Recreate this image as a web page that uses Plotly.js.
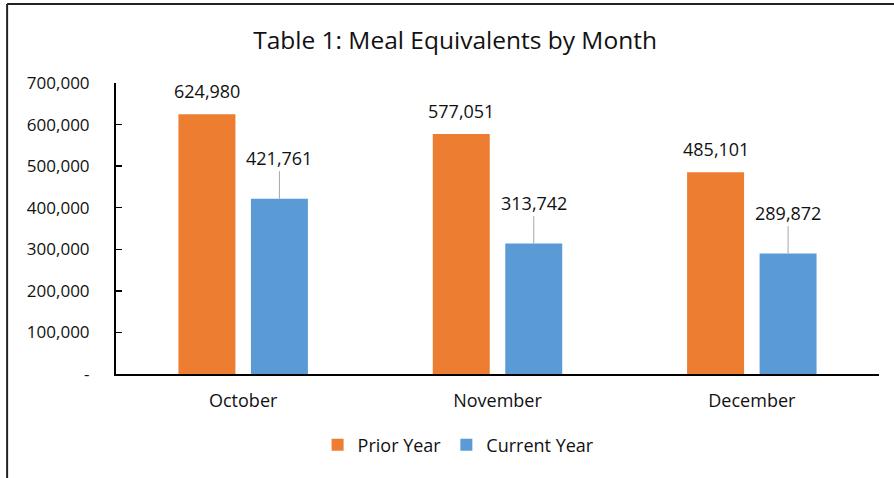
<!DOCTYPE html>
<html>
<head>
<meta charset="utf-8">
<script src="https://cdn.plot.ly/plotly-3.0.1.min.js"></script>
<style>html,body{margin:0;padding:0;background:#fff;}#chart{width:894px;height:478px;}</style>
</head>
<body>
<div id="chart"></div>
<script>
const months = ["October", "November", "December"];
const priorYear = [624980, 577051, 485101];
const currentYear = [421761, 313742, 289872];
const seriesNames = ["Prior Year", "Current Year"];
const yTickVals = [0, 100000, 200000, 300000, 400000, 500000, 600000, 700000];
const yTickText = ["-", "100,000", "200,000", "300,000", "400,000", "500,000", "600,000", "700,000"];

const FONT = "Open Sans, Noto Sans, sans-serif";
const TXT = "#111";
const ORANGE = "#ED7D31", BLUE = "#5B9BD5";
const BARGAP = 0.43, GROUPGAP = 0.214;
const off = (1 - BARGAP) / 4;

function fmt(v){ return v.toLocaleString("en-US"); }

const traces = [
  {type:"bar", name:seriesNames[0], x:months, y:priorYear, marker:{color:ORANGE}, hoverinfo:"none"},
  {type:"bar", name:seriesNames[1], x:months, y:currentYear, marker:{color:BLUE}, hoverinfo:"none"}
];

const annotations = [];
months.forEach((m, i) => {
  annotations.push({x:i - off, y:priorYear[i], xref:"x", yref:"y", text:fmt(priorYear[i]),
    showarrow:false, yanchor:"bottom", yshift:9, font:{family:FONT, size:18, color:TXT}});
  annotations.push({x:i + off, y:currentYear[i], xref:"x", yref:"y", text:fmt(currentYear[i]),
    showarrow:true, arrowhead:0, arrowwidth:1, arrowcolor:"#A6A6A6", ax:0, ay:-41, standoff:0,
    font:{family:FONT, size:18, color:TXT}});
});

const layout = {
  width:894, height:478,
  margin:{l:116, r:15, t:83, b:104, pad:0},
  paper_bgcolor:"#fff", plot_bgcolor:"#fff",
  font:{family:FONT, color:TXT},
  title:{text:"Table 1: Meal Equivalents by Month", font:{family:FONT, size:24.5, color:TXT},
    xref:"container", x:0.509, xanchor:"center", yref:"container", y:0.916, yanchor:"middle"},
  barmode:"group", bargap:BARGAP, bargroupgap:GROUPGAP,
  xaxis:{type:"category", showline:true, linecolor:"#000", linewidth:1.5, ticks:"", showgrid:false,
    tickfont:{family:FONT, size:18, color:TXT}, ticklabelstandoff:10, fixedrange:true},
  yaxis:{range:[0, 700000], tickvals:yTickVals, ticktext:yTickText, showline:true, linecolor:"#000", linewidth:2,
    ticks:"inside", ticklen:6, tickwidth:1.5, tickcolor:"#000", showgrid:false, zeroline:false,
    tickfont:{family:FONT, size:17, color:TXT}, ticklabelstandoff:21, fixedrange:true},
  showlegend:true,
  legend:{orientation:"h", x:0.449, xanchor:"center", y:-0.244, yanchor:"middle", itemwidth:30,
    font:{family:FONT, size:18, color:TXT}, itemclick:false},
  annotations:annotations,
  shapes:[
    {type:"line", xref:"paper", yref:"paper", x0:-0.1427, x1:1.05, y0:1.2715, y1:1.2715, line:{color:"#222", width:2}},
    {type:"line", xref:"paper", yref:"paper", x0:-0.1427, x1:-0.1427, y0:1.2715, y1:-0.4, line:{color:"#222", width:2}}
  ]
};

Plotly.newPlot("chart", traces, layout, {staticPlot:true, displayModeBar:false});
</script>
</body>
</html>
